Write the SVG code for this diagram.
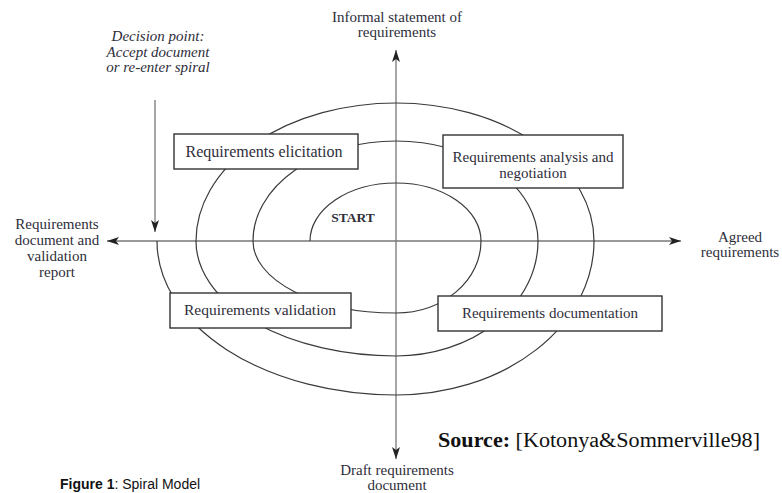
<svg xmlns="http://www.w3.org/2000/svg" width="782" height="493" viewBox="0 0 782 493">
<style>
  .lbl { font-family: "Liberation Serif", "Times New Roman", serif; font-size: 15px; fill: #2e2e3a; text-anchor: middle; }
  .it { font-style: italic; }
  .box { fill: #ffffff; stroke: #333333; stroke-width: 1.4; }
  .axis { stroke: #777777; stroke-width: 1.3; fill: none; }
  .spiral { stroke: #3a3a3a; stroke-width: 1.2; fill: none; }
</style>
<defs>
  <marker id="arr" viewBox="0 0 12 8" refX="12" refY="4" markerWidth="13" markerHeight="8" orient="auto" markerUnits="userSpaceOnUse">
    <path d="M0,0 L12,4 L0,8 L3,4 z" fill="#222222"/>
  </marker>
</defs>
<rect width="782" height="493" fill="#ffffff"/>
<g id="connectors">
  <line class="axis" x1="396" y1="241" x2="396" y2="50" marker-end="url(#arr)"/>
  <line class="axis" x1="396" y1="241" x2="396" y2="459" marker-end="url(#arr)"/>
  <line class="axis" x1="396" y1="241" x2="681" y2="241" marker-end="url(#arr)"/>
  <line class="axis" x1="396" y1="241" x2="107" y2="241" marker-end="url(#arr)"/>
  <line class="axis" x1="155" y1="100" x2="155" y2="232" stroke="#444" marker-end="url(#arr)"/>
  <path id="spiral" class="spiral" d="M310,241 A86,58 0 0 1 396,183 A85,58 0 0 1 481,241 A85,72 0 0 1 396,313 A143,72 0 0 1 253,241 A143,100 0 0 1 396,141 A142,100 0 0 1 538,241 A142,115 0 0 1 396,356 A200,115 0 0 1 196,241 A200,138 0 0 1 396,103 A198,138 0 0 1 594,241 A198,154 0 0 1 396,395 A239,154 0 0 1 157,241"/>
</g>
<g id="elicitation">
  <rect class="box" x="174" y="134" width="184" height="35"/>
  <text class="lbl" x="264" y="157" style="font-size:16px">Requirements elicitation</text>
</g>
<g id="analysis">
  <rect class="box" x="443" y="135" width="180" height="53"/>
  <text class="lbl" x="533" y="162">Requirements analysis and</text>
  <text class="lbl" x="533" y="178">negotiation</text>
</g>
<g id="validation">
  <rect class="box" x="170" y="293" width="181" height="35"/>
  <text class="lbl" x="260" y="315" style="font-size:15.5px">Requirements validation</text>
</g>
<g id="documentation">
  <rect class="box" x="438" y="296" width="224" height="35"/>
  <text class="lbl" x="550" y="318">Requirements documentation</text>
</g>
<g id="start">
  <text class="lbl" x="353" y="222" style="font-weight:bold;font-size:13.5px">START</text>
</g>
<g id="informal">
  <text class="lbl" x="397" y="22">Informal statement of</text>
  <text class="lbl" x="397" y="37">requirements</text>
</g>
<g id="draft">
  <text class="lbl" x="397" y="475">Draft requirements</text>
  <text class="lbl" x="397" y="490">document</text>
</g>
<g id="agreed">
  <text class="lbl" x="740" y="242">Agreed</text>
  <text class="lbl" x="740" y="257">requirements</text>
</g>
<g id="reqdoc">
  <text class="lbl" x="57" y="229">Requirements</text>
  <text class="lbl" x="57" y="245">document and</text>
  <text class="lbl" x="57" y="261">validation</text>
  <text class="lbl" x="57" y="277">report</text>
</g>
<g id="decision">
  <text class="lbl it" x="158" y="41">Decision point:</text>
  <text class="lbl it" x="158" y="57">Accept document</text>
  <text class="lbl it" x="158" y="72">or re-enter spiral</text>
</g>
<g id="source">
  <text x="438" y="447" textLength="322" lengthAdjust="spacingAndGlyphs" style="font-family:'Liberation Serif','Times New Roman',serif;font-size:20px;fill:#111"><tspan font-weight="bold">Source:</tspan> [Kotonya&amp;Sommerville98]</text>
</g>
<g id="caption">
  <text x="60" y="489" style="font-family:'Liberation Sans',Arial,sans-serif;font-size:14px;fill:#111"><tspan font-weight="bold">Figure 1</tspan>: Spiral Model</text>
</g>
</svg>
